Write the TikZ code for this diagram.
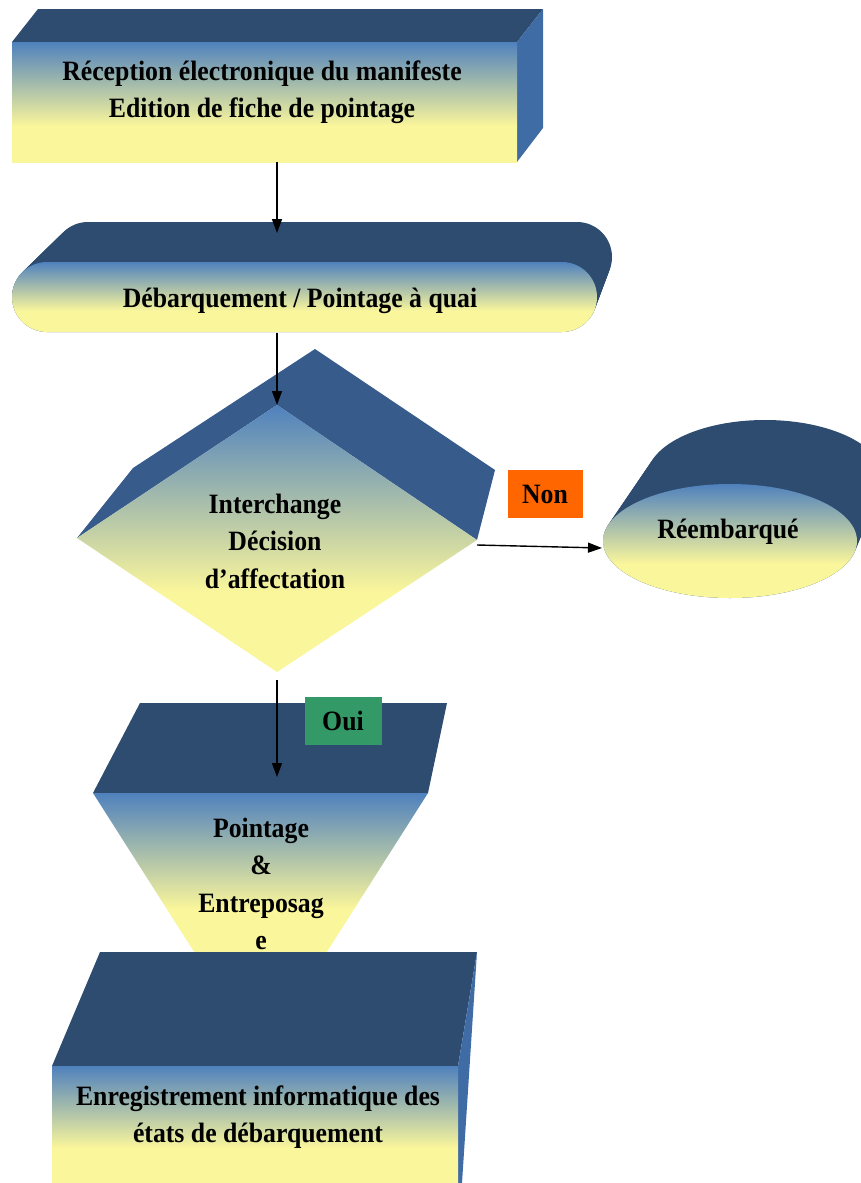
\documentclass[tikz,border=0pt]{standalone}
\usepackage{fontspec}
\setmainfont{Liberation Serif}[FakeStretch=0.92]
\usetikzlibrary{arrows.meta}

\definecolor{faceblue}{RGB}{79,129,189}
\definecolor{faceyellow}{RGB}{250,246,155}
\definecolor{topdark}{RGB}{46,76,112}
\definecolor{topmid}{RGB}{55,92,140}
\definecolor{sideblue}{RGB}{64,108,166}
\definecolor{nonorange}{RGB}{255,102,0}
\definecolor{ouigreen}{RGB}{51,153,102}

% blue at the top of a face, fading to yellow towards the bottom
\pgfdeclareverticalshading{frontfade}{100bp}{color(0bp)=(faceyellow); color(40bp)=(faceyellow); color(75bp)=(faceblue); color(100bp)=(faceblue)}

\tikzset{
  front/.style={shading=frontfade},
  topface/.style={fill=topdark},
  sideface/.style={fill=sideblue},
  boxtext/.style={font=\bfseries\fontsize{28}{36.5}\selectfont, align=center, inner sep=0pt, text=black},
  tighttext/.style={boxtext, font=\bfseries\fontsize{28}{37.5}\selectfont},
  tag/.style={boxtext, minimum width=75pt, minimum height=48pt},
  flow/.style={draw=black, line width=1.4pt, -{Triangle[length=14pt,width=10pt]}},
}

\begin{document}
\begin{tikzpicture}[x=1pt,y=-1pt]
\useasboundingbox (0,0) rectangle (861,1183);
\clip (0,0) rectangle (861,1183);

% --- Reception box ---
\fill[topface] (12,42) -- (38,9) -- (543,9) -- (517,42) -- cycle;
\fill[sideface] (517,42) -- (543,9) -- (543,128) -- (517,162) -- cycle;
\shade[front] (12,42) rectangle (517,162);
\node[boxtext] (recep) at (262,92) {Réception électronique du manifeste\\Edition de fiche de pointage};
\coordinate (recep-s) at (277,162);

% --- Debarquement terminator (extruded stadium) ---
\foreach \t in {0,0.05,...,1.001}{
  \pgfmathsetmacro\xl{12+\t*(53-12)}
  \pgfmathsetmacro\xr{597+\t*(612-597)}
  \pgfmathsetmacro\yt{262+\t*(222-262)}
  \fill[topdark,rounded corners=35pt] (\xl,\yt) rectangle (\xr,\yt+70);
}
\shade[front,rounded corners=35pt] (12,262) rectangle (597,332);
\node[boxtext] (debarq) at (300,301) {Débarquement / Pointage à quai};
\coordinate (debarq-n) at (277,233);
\coordinate (debarq-s) at (277,333);

% --- Decision diamond ---
\fill[topmid] (77,538) -- (133,468) -- (315,349) -- (495,470) -- (477,540) -- (277,405) -- cycle;
\shade[front] (277,405) -- (477,540) -- (277,672) -- (77,538) -- cycle;
\node[tighttext] (decision) at (275,541) {Interchange\\Décision\\d’affectation};
\coordinate (decision-n) at (277,405);
\coordinate (decision-e) at (477,545);
\coordinate (decision-s) at (277,680);

\node[tag, fill=nonorange] (non) at (545,494) {Non};

% --- Reembarque (extruded ellipse) ---
\foreach \t in {0,0.05,...,1.001}{
  \pgfmathsetmacro\cx{730+35*\t}
  \pgfmathsetmacro\cy{541-64*\t}
  \pgfmathsetmacro\rx{127-9*\t}
  \fill[topdark] (\cx,\cy) ellipse [x radius=\rx pt, y radius=57pt];
}
\shade[front] (730,541) ellipse [x radius=127pt, y radius=57pt];
\node[boxtext] (reemb) at (728,532) {Réembarqué};
\coordinate (reemb-w) at (602,548);

% --- Pointage & Entreposage (inverted trapezoid) ---
\fill[topface] (93,793) -- (140,703) -- (447,703) -- (428,793) -- cycle;
\shade[front] (93,793) -- (428,793) -- (323,958) -- (198,958) -- cycle;
\node[tighttext] (entrep) at (261,884) {Pointage\\\&\\Entreposag\\e};
\coordinate (entrep-n) at (277,777);

\node[tag, fill=ouigreen, minimum width=77pt] (oui) at (343,721) {Oui};

% --- Enregistrement box ---
\fill[topface] (52,1066) -- (100,952) -- (477,952) -- (458,1066) -- cycle;
\fill[sideface] (458,1066) -- (477,952) -- (462,1183) -- (458,1183) -- cycle;
\shade[front] (52,1066) rectangle (458,1183);
\node[boxtext] (enreg) at (258,1117) {Enregistrement informatique des\\états de débarquement};

% --- connectors ---
\draw[flow] (recep-s) -- (debarq-n);
\draw[flow] (debarq-s) -- (decision-n);
\draw[flow] (decision-e) -- (reemb-w);
\draw[flow] (decision-s) -- (entrep-n);
\end{tikzpicture}
\end{document}
